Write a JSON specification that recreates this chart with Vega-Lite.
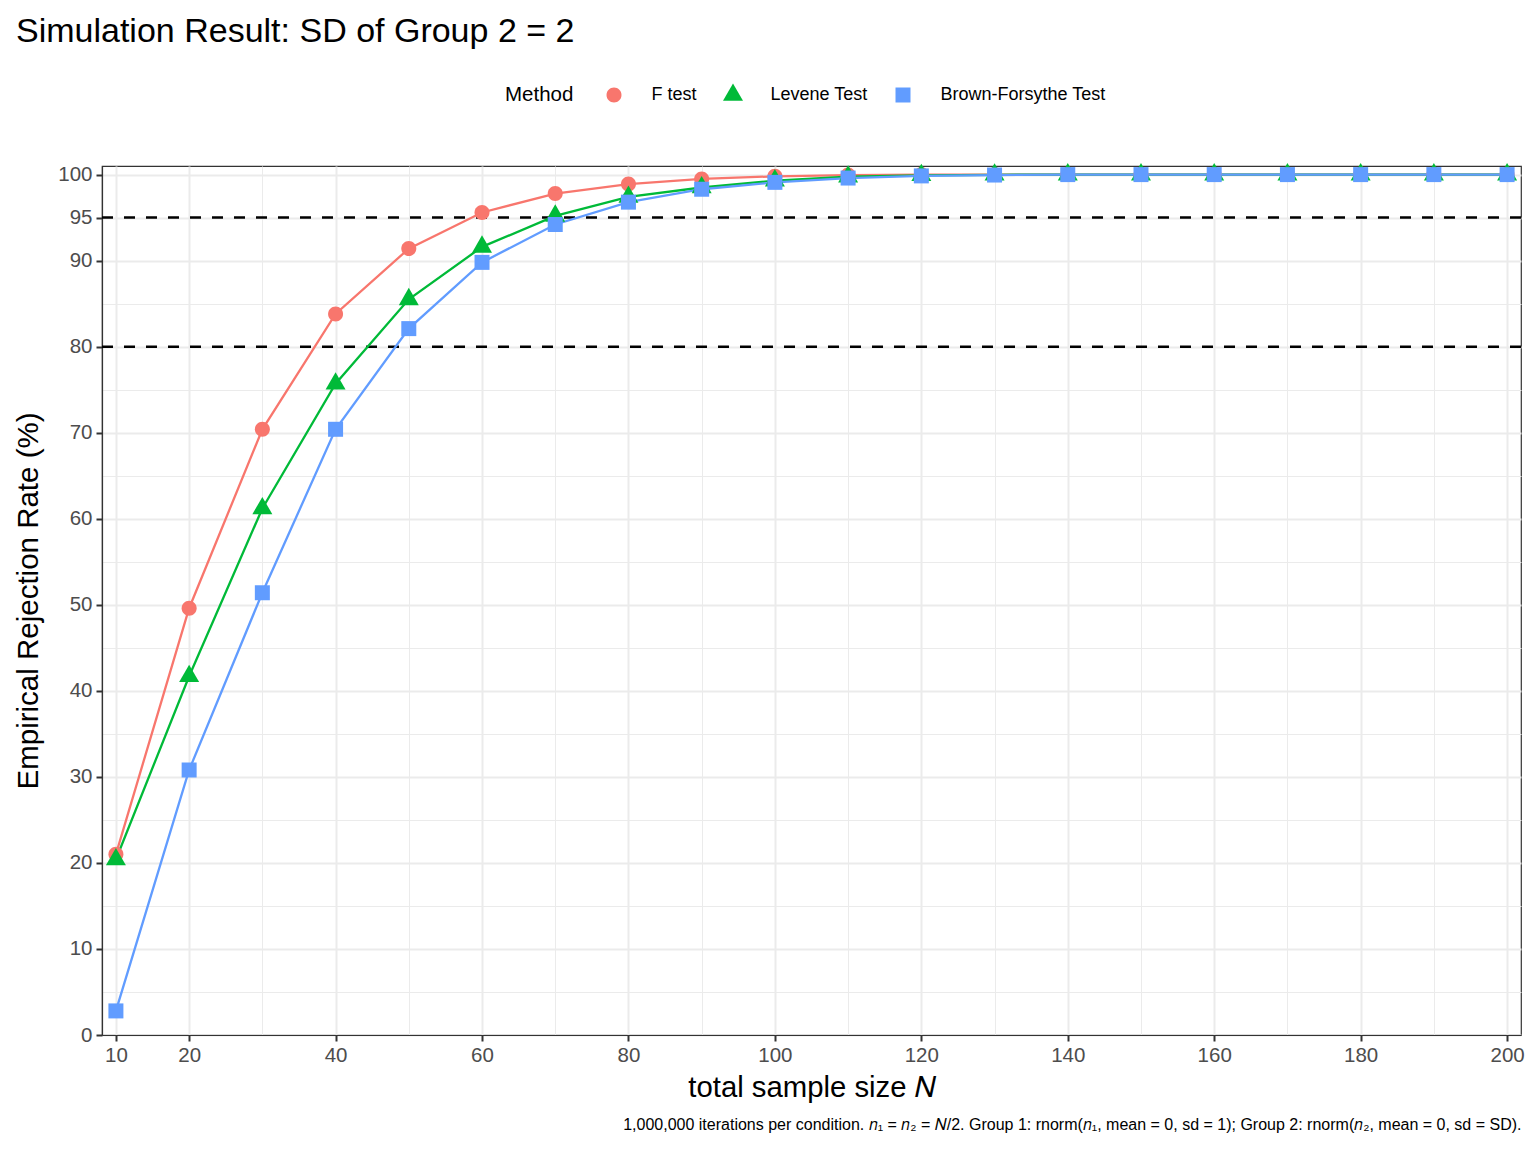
{
  "$schema": "https://vega.github.io/schema/vega-lite/v6.json",
  "width": 1419,
  "height": 869,
  "autosize": "none",
  "padding": {"left": 102, "top": 166, "right": 15, "bottom": 117},
  "background": "white",
  "config": {
    "font": "Liberation Sans",
    "view": {"stroke": "#333333", "strokeWidth": 1.2},
    "axis": {"titleFontWeight": "normal", "labelFont": "Liberation Sans", "titleFont": "Liberation Sans"}
  },
  "title": {
    "text": "Simulation Result: SD of Group 2 = 2",
    "anchor": "start",
    "frame": "group",
    "fontSize": 34,
    "fontWeight": "normal",
    "color": "black",
    "baseline": "alphabetic",
    "dx": -86,
    "dy": -10,
    "offset": 0
  },
  "data": {
    "values": [
      {"N": 10, "method": "F test", "rate": 21.0},
      {"N": 20, "method": "F test", "rate": 49.6},
      {"N": 30, "method": "F test", "rate": 70.4},
      {"N": 40, "method": "F test", "rate": 83.8},
      {"N": 50, "method": "F test", "rate": 91.4},
      {"N": 60, "method": "F test", "rate": 95.6},
      {"N": 70, "method": "F test", "rate": 97.8},
      {"N": 80, "method": "F test", "rate": 98.9},
      {"N": 90, "method": "F test", "rate": 99.5},
      {"N": 100, "method": "F test", "rate": 99.8},
      {"N": 110, "method": "F test", "rate": 99.95},
      {"N": 120, "method": "F test", "rate": 100},
      {"N": 130, "method": "F test", "rate": 100},
      {"N": 140, "method": "F test", "rate": 100},
      {"N": 150, "method": "F test", "rate": 100},
      {"N": 160, "method": "F test", "rate": 100},
      {"N": 170, "method": "F test", "rate": 100},
      {"N": 180, "method": "F test", "rate": 100},
      {"N": 190, "method": "F test", "rate": 100},
      {"N": 200, "method": "F test", "rate": 100},
      {"N": 10, "method": "Levene Test", "rate": 20.4},
      {"N": 20, "method": "Levene Test", "rate": 41.7},
      {"N": 30, "method": "Levene Test", "rate": 61.2},
      {"N": 40, "method": "Levene Test", "rate": 75.7},
      {"N": 50, "method": "Levene Test", "rate": 85.5},
      {"N": 60, "method": "Levene Test", "rate": 91.6},
      {"N": 70, "method": "Levene Test", "rate": 95.2},
      {"N": 80, "method": "Levene Test", "rate": 97.4},
      {"N": 90, "method": "Levene Test", "rate": 98.5},
      {"N": 100, "method": "Levene Test", "rate": 99.3},
      {"N": 110, "method": "Levene Test", "rate": 99.75},
      {"N": 120, "method": "Levene Test", "rate": 99.92},
      {"N": 130, "method": "Levene Test", "rate": 99.98},
      {"N": 140, "method": "Levene Test", "rate": 100},
      {"N": 150, "method": "Levene Test", "rate": 100},
      {"N": 160, "method": "Levene Test", "rate": 100},
      {"N": 170, "method": "Levene Test", "rate": 100},
      {"N": 180, "method": "Levene Test", "rate": 100},
      {"N": 190, "method": "Levene Test", "rate": 100},
      {"N": 200, "method": "Levene Test", "rate": 100},
      {"N": 10, "method": "Brown-Forsythe Test", "rate": 2.8},
      {"N": 20, "method": "Brown-Forsythe Test", "rate": 30.8},
      {"N": 30, "method": "Brown-Forsythe Test", "rate": 51.4},
      {"N": 40, "method": "Brown-Forsythe Test", "rate": 70.4},
      {"N": 50, "method": "Brown-Forsythe Test", "rate": 82.1},
      {"N": 60, "method": "Brown-Forsythe Test", "rate": 89.8},
      {"N": 70, "method": "Brown-Forsythe Test", "rate": 94.2},
      {"N": 80, "method": "Brown-Forsythe Test", "rate": 96.8},
      {"N": 90, "method": "Brown-Forsythe Test", "rate": 98.3},
      {"N": 100, "method": "Brown-Forsythe Test", "rate": 99.1},
      {"N": 110, "method": "Brown-Forsythe Test", "rate": 99.6},
      {"N": 120, "method": "Brown-Forsythe Test", "rate": 99.85},
      {"N": 130, "method": "Brown-Forsythe Test", "rate": 99.95},
      {"N": 140, "method": "Brown-Forsythe Test", "rate": 100},
      {"N": 150, "method": "Brown-Forsythe Test", "rate": 100},
      {"N": 160, "method": "Brown-Forsythe Test", "rate": 100},
      {"N": 170, "method": "Brown-Forsythe Test", "rate": 100},
      {"N": 180, "method": "Brown-Forsythe Test", "rate": 100},
      {"N": 190, "method": "Brown-Forsythe Test", "rate": 100},
      {"N": 200, "method": "Brown-Forsythe Test", "rate": 100}
    ]
  },
  "layer": [
    {
      "layer": [
        {
          "data": {"values": [{"rate": 95}, {"rate": 80}]},
          "mark": {"type": "rule", "color": "black", "strokeWidth": 2.5, "strokeDash": [11, 11]},
          "encoding": {
            "y": {"field": "rate", "type": "quantitative"}
          }
        },
        {
          "mark": {"type": "line", "strokeWidth": 2.3},
          "encoding": {
            "x": {
              "field": "N",
              "type": "quantitative",
              "scale": {"domain": [8.1, 201.9], "nice": false, "zero": false},
              "axis": {
                "values": [10, 20, 40, 60, 80, 100, 120, 140, 160, 180, 200],
                "title": "total sample size 𝑁",
                "titleFontSize": 29.3,
                "titleColor": "black",
                "titleBaseline": "alphabetic",
                "titleY": 61,
                "labelFontSize": 20.5,
                "labelColor": "#4D4D4D",
                "labelPadding": 4,
                "labelFlush": false,
                "labelOverlap": false,
                "tickSize": 6,
                "tickWidth": 2,
                "tickColor": "#333333",
                "grid": true,
                "gridColor": "#EBEBEB",
                "gridWidth": 2,
                "domainColor": "#333333",
                "domainWidth": 1.2
              }
            },
            "y": {
              "field": "rate",
              "type": "quantitative",
              "scale": {"domain": [0, 101], "nice": false, "zero": false},
              "axis": {
                "values": [0, 10, 20, 30, 40, 50, 60, 70, 80, 90, 95, 100],
                "title": "Empirical Rejection Rate (%)",
                "titleFontSize": 29.5,
                "titleColor": "black",
                "titleAngle": -90,
                "titleAlign": "center",
                "titleBaseline": "alphabetic",
                "titleX": -65,
                "titleY": 434.5,
                "labelFontSize": 20.5,
                "labelColor": "#4D4D4D",
                "labelPadding": 4,
                "labelOverlap": false,
                "tickSize": 6,
                "tickWidth": 2,
                "tickColor": "#333333",
                "grid": true,
                "gridColor": "#EBEBEB",
                "gridWidth": 2,
                "domainColor": "#333333",
                "domainWidth": 1.2
              }
            },
            "color": {
              "field": "method",
              "type": "nominal",
              "scale": {"domain": ["F test", "Levene Test", "Brown-Forsythe Test"], "range": ["#F8766D", "#00BA38", "#619CFF"]}
            }
          }
        },
        {
          "mark": {"type": "point", "filled": true, "opacity": 1, "size": 225},
          "encoding": {
            "x": {"field": "N", "type": "quantitative"},
            "y": {"field": "rate", "type": "quantitative"},
            "color": {
              "field": "method",
              "type": "nominal",
              "legend": {
                "orient": "none",
                "legendX": 403,
                "legendY": -80,
                "direction": "horizontal",
                "title": "Method",
                "titleOrient": "left",
                "titleFontSize": 20.5,
                "titleFontWeight": "normal",
                "titleColor": "black",
                "titlePadding": 31,
                "labelFontSize": 18,
                "labelColor": "black",
                "labelLimit": 0,
                "labelOffset": 28.5,
                "symbolSize": 225,
                "symbolStrokeWidth": 0,
                "columnPadding": 26
              }
            },
            "shape": {
              "field": "method",
              "type": "nominal",
              "scale": {
                "domain": ["F test", "Levene Test", "Brown-Forsythe Test"],
                "range": ["M1,0A1,1 0 1,1 -1,0A1,1 0 1,1 1,0Z", "M0,-1.54L1.333,0.77L-1.333,0.77Z", "M-1,-1H1V1H-1Z"]
              },
              "legend": null
            }
          }
        }
      ]
    },
    {
      "mark": {"type": "point", "opacity": 0},
      "encoding": {
        "x": {
          "field": "N",
          "type": "quantitative",
          "axis": {
            "orient": "bottom",
            "values": [30, 50, 70, 90, 110, 130, 150, 170, 190],
            "grid": true,
            "gridColor": "#EBEBEB",
            "gridWidth": 1,
            "labels": false,
            "ticks": false,
            "domain": false,
            "title": "1,000,000 iterations per condition. 𝑛₁ = 𝑛₂ = 𝑁/2. Group 1: rnorm(𝑛₁, mean = 0, sd = 1); Group 2: rnorm(𝑛₂, mean = 0, sd = SD).",
            "titleFontSize": 16,
            "titleColor": "black",
            "titleAnchor": "end",
            "titleAlign": "right",
            "titleBaseline": "alphabetic",
            "titleX": 1419,
            "titleY": 94
          }
        },
        "y": {
          "field": "rate",
          "type": "quantitative",
          "axis": {
            "orient": "left",
            "values": [5, 15, 25, 35, 45, 55, 65, 75, 85],
            "grid": true,
            "gridColor": "#EBEBEB",
            "gridWidth": 1,
            "labels": false,
            "ticks": false,
            "domain": false,
            "title": null
          }
        }
      }
    }
  ],
  "resolve": {"axis": {"x": "independent", "y": "independent"}}
}
